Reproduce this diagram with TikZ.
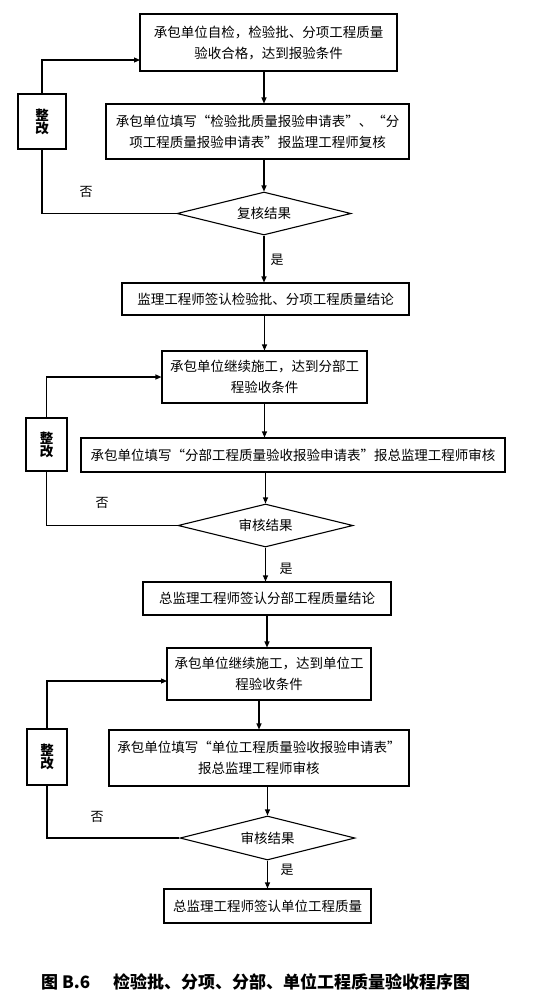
\documentclass[tikz,border=0pt]{standalone}
\usepackage{fontspec}
\setmainfont{Noto Sans CJK SC}
\usetikzlibrary{shapes.geometric,arrows.meta}
\tikzset{
  box/.style={draw, line width=1.1pt, inner sep=0pt, align=center,
    font=\fontsize{13.5}{21}\selectfont},
  dec/.style={draw, diamond, aspect=4, line width=1.1pt, inner sep=0pt,
    font=\fontsize{13.5}{16}\selectfont},
  fix/.style={draw, line width=1.1pt, inner sep=0pt, align=center,
    font=\fontsize{13.5}{13}\selectfont\bfseries},
  lbl/.style={inner sep=0pt, font=\fontsize{13}{15}\selectfont},
  arr/.style={line width=1.1pt, -{Triangle[length=6pt,width=5pt]}},
  ln/.style={line width=1.1pt}
}
\begin{document}
\begin{tikzpicture}[x=1pt,y=-1pt]
\useasboundingbox (0,0) rectangle (536,997);
% section 1
\node[box, minimum width=257pt, minimum height=57pt] (b1) at (268.5,42.5)
  {承包单位自检，检验批、分项工程质量\\验收合格，达到报验条件};
\node[box, minimum width=303pt, minimum height=55pt] (b2) at (257.5,131.5)
  {承包单位填写“检验批质量报验申请表”、“分\\项工程质量报验申请表”报监理工程师复核};
\node[dec, minimum width=174pt, minimum height=43pt] (d1) at (264,213.5) {复核结果};
\node[box, minimum width=287pt, minimum height=32pt] (b3) at (265.5,299)
  {监理工程师签认检验批、分项工程质量结论};
\node[fix, minimum width=48pt, minimum height=55pt] (z1) at (42,121.5) {整\\改};
\coordinate (r1) at (140,60);
\node[lbl] (n1) at (86,192) {否};
\node[lbl] (y1) at (277,260) {是};
\draw[arr] (b1.south -| d1.north) -- (b2.north -| d1.north);
\draw[arr] (b2.south -| d1.north) -- (d1.north);
\draw[arr] (d1.south) -- (d1.south |- b3.north);
\draw[ln] (d1.west) -| (z1.south);
\draw[arr] (z1.north) |- (r1);
% section 2
\node[box, minimum width=205pt, minimum height=52pt] (b4) at (264.5,377)
  {承包单位继续施工，达到分部工\\程验收条件};
\node[box, minimum width=424pt, minimum height=34pt] (b5) at (293,455)
  {承包单位填写“分部工程质量验收报验申请表”报总监理工程师审核};
\node[dec, minimum width=175pt, minimum height=43pt] (d2) at (265.5,525.5) {审核结果};
\node[box, minimum width=248pt, minimum height=33pt] (b6) at (267,598.5)
  {总监理工程师签认分部工程质量结论};
\node[fix, minimum width=41pt, minimum height=53pt] (z2) at (46.5,444.5) {整\\改};
\node[lbl] (n2) at (102,503) {否};
\node[lbl] (y2) at (286,569) {是};
\draw[arr] (b3.south -| b4.north) -- (b4.north);
\draw[arr] (b4.south) -- (b4.south |- b5.north);
\draw[arr] (d2.north |- b5.south) -- (d2.north);
\draw[arr] (d2.south) -- (d2.south |- b6.north);
\draw[ln] (d2.west) -| (z2.south);
\draw[arr] (z2.north) |- (b4.west);
% section 3
\node[box, minimum width=204pt, minimum height=52pt] (b7) at (269,674)
  {承包单位继续施工，达到单位工\\程验收条件};
\node[box, minimum width=300pt, minimum height=56pt] (b8) at (259,758)
  {承包单位填写“单位工程质量验收报验申请表”\\报总监理工程师审核};
\node[dec, minimum width=175pt, minimum height=44pt] (d3) at (267.5,838) {审核结果};
\node[box, minimum width=207pt, minimum height=34pt] (b9) at (267.5,906)
  {总监理工程师签认单位工程质量};
\node[fix, minimum width=40pt, minimum height=56pt] (z3) at (47,757) {整\\改};
\coordinate (r3) at (167,681);
\node[lbl] (n3) at (97,817) {否};
\node[lbl] (y3) at (287,870) {是};
\draw[arr] (b6.south) -- (b6.south |- b7.north);
\draw[arr] (b7.south -| b8.north) -- (b8.north);
\draw[arr] (d3.north |- b8.south) -- (d3.north);
\draw[arr] (d3.south) -- (d3.south |- b9.north);
\draw[ln] (d3.west) -| (z3.south);
\draw[arr] (z3.north) |- (r3);
% caption
\node[anchor=west, inner sep=0pt, font=\fontsize{17}{20}\selectfont\bfseries] (c1) at (41,982) {图 B.6};
\node[anchor=west, inner sep=0pt, font=\fontsize{17}{20}\selectfont\bfseries] (c2) at (113,982) {检验批、分项、分部、单位工程质量验收程序图};
\end{tikzpicture}
\end{document}
